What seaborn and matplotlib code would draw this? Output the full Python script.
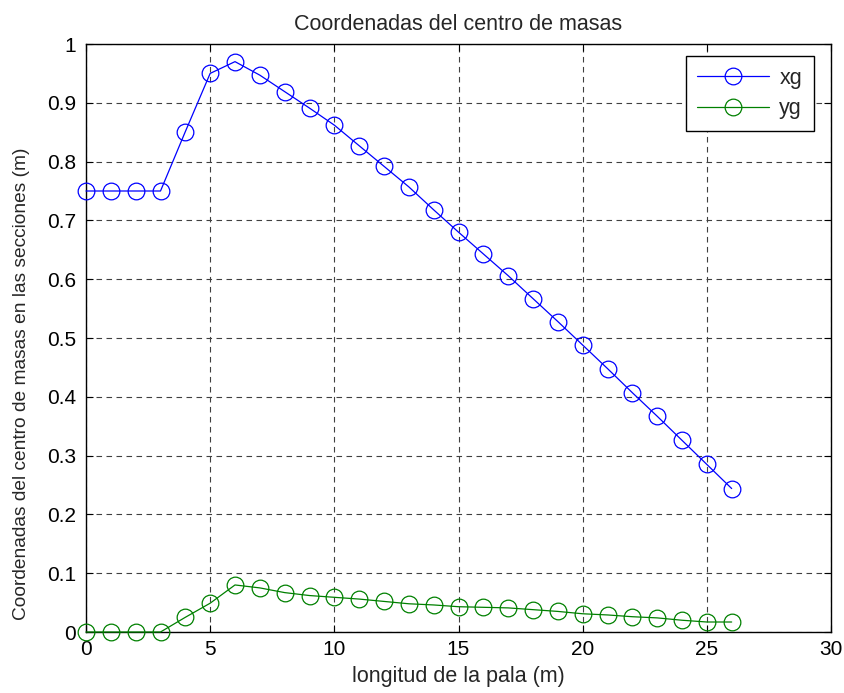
import numpy as np
import pandas as pd
import matplotlib
matplotlib.use("Agg")
import matplotlib.pyplot as plt
import seaborn as sns

# Section positions along the blade (m)
longitud = list(range(27))

# Centre-of-mass coordinates per section (m)
xg = [0.75, 0.75, 0.75, 0.75, 0.851, 0.950, 0.970, 0.947, 0.919, 0.891,
      0.862, 0.827, 0.792, 0.757, 0.718, 0.680, 0.643, 0.606, 0.567, 0.528,
      0.488, 0.448, 0.407, 0.367, 0.326, 0.285, 0.244]
yg = [0.0, 0.0, 0.0, 0.0, 0.025, 0.049, 0.080, 0.075, 0.067, 0.062,
      0.059, 0.056, 0.052, 0.048, 0.046, 0.043, 0.042, 0.041, 0.038, 0.035,
      0.031, 0.029, 0.026, 0.024, 0.020, 0.017, 0.017]

series_names = ["xg", "yg"]
xticks = [0, 5, 10, 15, 20, 25, 30]
yticks = [0, 0.1, 0.2, 0.3, 0.4, 0.5, 0.6, 0.7, 0.8, 0.9, 1]
ytick_labels = ["0", "0.1", "0.2", "0.3", "0.4", "0.5", "0.6", "0.7", "0.8", "0.9", "1"]

df = pd.DataFrame({
    "longitud": longitud * 2,
    "valor": xg + yg,
    "serie": [series_names[0]] * len(xg) + [series_names[1]] * len(yg),
})

sns.set_style("white")
plt.rcParams["font.family"] = ["Liberation Sans", "DejaVu Sans"]

fig = plt.figure(figsize=(8.44, 6.93), dpi=100)
ax = fig.add_axes([86 / 844, 61 / 693, 745 / 844, 588 / 693])

sns.lineplot(
    data=df, x="longitud", y="valor", hue="serie",
    palette={"xg": (0, 0, 1), "yg": (0, 0.5, 0)},
    marker="o", markersize=12, markerfacecolor="none", markeredgewidth=0.9,
    linewidth=0.9, ax=ax, legend=False,
)
# hollow circles take the line colour, and are not clipped at the axes edge
for line in ax.lines:
    line.set_markeredgecolor(line.get_color())
    line.set_clip_on(False)
    line.set_zorder(3)

ax.set_xlim(0, 30)
ax.set_ylim(0, 1)
ax.set_xticks(xticks)
ax.set_yticks(yticks)
ax.set_yticklabels(ytick_labels)
ax.tick_params(direction="in", length=5, width=0.8, labelsize=15, pad=6,
               top=True, right=True, bottom=True, left=True, colors="black")
ax.tick_params(axis="y", pad=7)
ax.grid(True, color="#404040", linestyle=(0, (5, 4)), linewidth=0.8)
for s in ax.spines.values():
    s.set_color("black")
    s.set_linewidth(1.0)

ax.set_title("Coordenadas del centro de masas", fontsize=15.5, pad=10)
ax.set_xlabel("longitud de la pala (m)", fontsize=15.5, labelpad=5)
ax.set_ylabel("Coordenadas del centro de masas en las secciones (m)", fontsize=13.8)
ax.yaxis.set_label_coords(-0.075, 0.423)

handles = ax.lines[:2]
leg = ax.legend(handles, series_names, loc="upper right", fontsize=15.5,
                frameon=True, fancybox=False, framealpha=1, edgecolor="black",
                bbox_to_anchor=(0.977, 0.980), handlelength=3.3, borderpad=0.55,
                labelspacing=0.45, handletextpad=0.5, borderaxespad=0)
leg.get_frame().set_linewidth(1.0)

fig.savefig("out.png", dpi=100)
